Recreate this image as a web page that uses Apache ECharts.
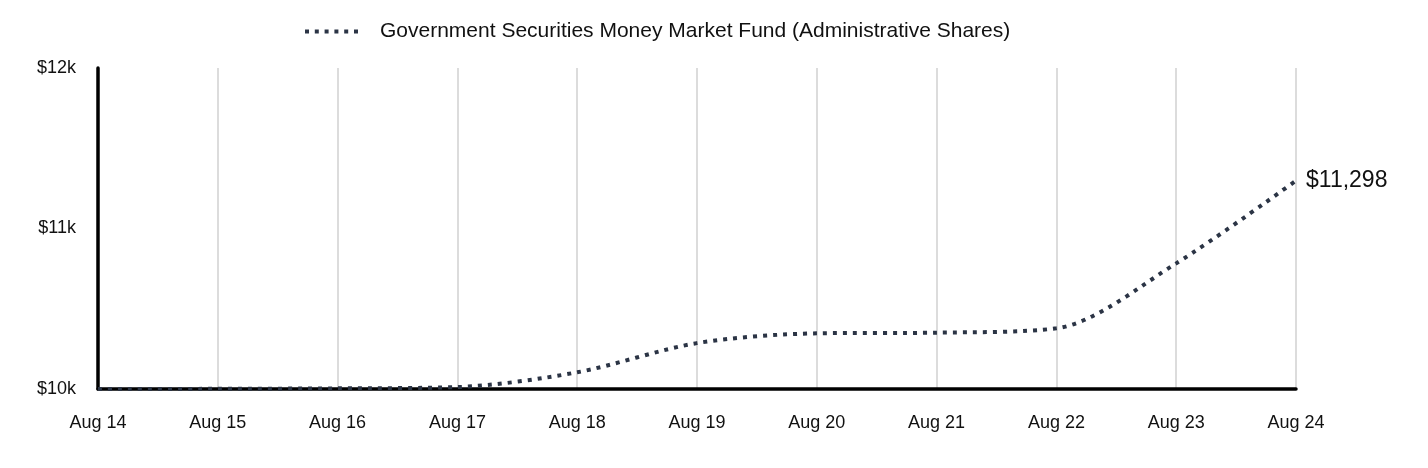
<!DOCTYPE html>
<html><head><meta charset="utf-8">
<script src="https://cdn.jsdelivr.net/npm/echarts@6/dist/echarts.min.js"></script>
<style>html,body{margin:0;padding:0;background:#fff}#c{width:1428px;height:468px}</style>
</head><body><div id="c"></div>
<script>
const categories = ["Aug 14","Aug 15","Aug 16","Aug 17","Aug 18","Aug 19","Aug 20","Aug 21","Aug 22","Aug 23","Aug 24"];
const fundValues = [10000,10001,10004,10012,10104,10286,10347,10351,10378,10783,11298];
const seriesName = "Government Securities Money Market Fund (Administrative Shares)";
const yTicks = [10000,11000,12000];
const lineColor = "#2b3445";
const dotsIcon = 'path://M0,0h4v4h-4z M9.8,0h4v4h-4z M19.6,0h4v4h-4z M29.4,0h4v4h-4z M39.2,0h4v4h-4z M49,0h4v4h-4z';
const chart = echarts.init(document.getElementById('c'), null, {renderer:'canvas'});
chart.setOption({
  animation:false,
  textStyle:{fontFamily:'Liberation Sans, Arial, sans-serif'},
  legend:{top:16,left:300,itemWidth:53,itemHeight:4,
    textStyle:{fontSize:21,color:'#111',padding:[0,0,0,17]},
    data:[{name:seriesName,icon:dotsIcon,itemStyle:{color:lineColor}}]},
  grid:{left:98,right:132,top:68,bottom:79,containLabel:false},
  xAxis:{type:'category',data:categories,boundaryGap:false,
    axisLine:{lineStyle:{color:'#000',width:3.5}},axisTick:{show:false},
    axisLabel:{fontSize:18,color:'#111',margin:25},
    splitLine:{show:true,lineStyle:{color:'#dcdcdc',width:2}}},
  yAxis:{type:'value',min:10000,max:12000,interval:1000,
    axisLine:{show:true,lineStyle:{color:'#000',width:3.5}},axisTick:{show:false},
    splitLine:{show:false},
    axisLabel:{fontSize:18,color:'#111',margin:22,verticalAlign:'middle',
      formatter:v=>yTicks.includes(v)?'$'+(v/1000)+'k':''}},
  series:[{name:seriesName,type:'line',data:fundValues,smooth:0.3,symbol:'none',
    lineStyle:{color:lineColor,width:4,type:[4,6],cap:'butt'},itemStyle:{color:lineColor},
    endLabel:{show:true,fontSize:23,color:'#111',distance:10,
      formatter:p=>'$'+p.value.toLocaleString('en-US')}}]
});
</script></body></html>
